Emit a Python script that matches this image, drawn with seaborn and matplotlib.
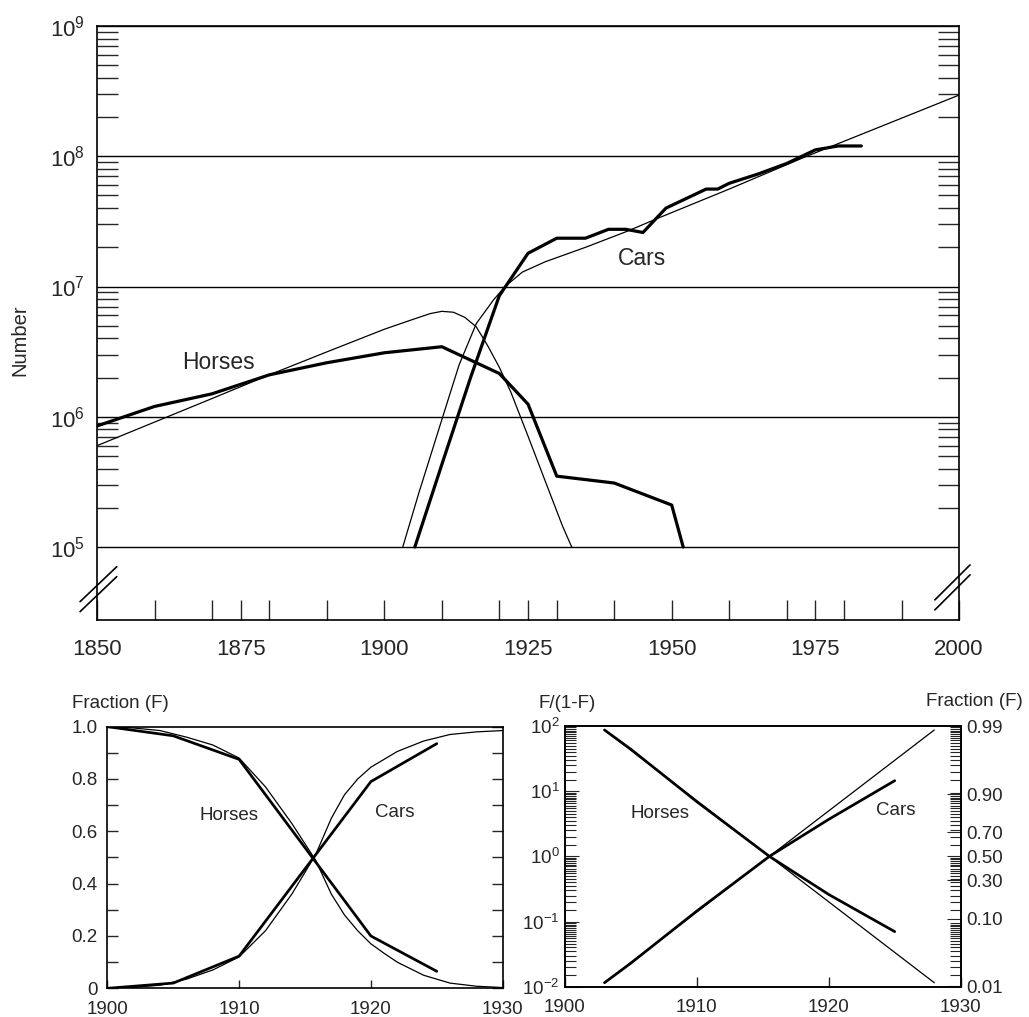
import numpy as np
import matplotlib
matplotlib.use('Agg')
import matplotlib.pyplot as plt
import matplotlib.ticker as mticker
import seaborn as sns

# top panel: numbers (observed = thick, fitted = thin)
horse_years = [1850, 1860, 1870, 1880, 1890, 1900, 1910, 1920, 1925, 1930, 1940, 1950, 1952]
horse_number = [8.5e5, 1.2e6, 1.5e6, 2.1e6, 2.6e6, 3.1e6, 3.45e6, 2.15e6, 1.25e6, 3.5e5, 3.1e5, 2.1e5, 1.0e5]
horse_fit_years = [1850, 1860, 1870, 1880, 1890, 1900, 1905, 1908, 1910, 1912, 1914, 1916, 1918, 1920,
                   1922, 1925, 1928, 1931, 1932.6]
horse_fit_number = [6.0e5, 9.1e5, 1.38e6, 2.1e6, 3.15e6, 4.7e6, 5.6e6, 6.2e6, 6.45e6, 6.35e6, 5.8e6, 4.9e6,
                    3.5e6, 2.4e6, 1.55e6, 7.1e5, 3.2e5, 1.45e5, 1.0e5]
car_years = [1905.3, 1910, 1915, 1920, 1925, 1930, 1935, 1939, 1942, 1945, 1949, 1956, 1958, 1960, 1965,
             1970, 1975, 1979, 1983]
car_number = [1.0e5, 4.3e5, 2.0e6, 8.5e6, 1.8e7, 2.35e7, 2.35e7, 2.75e7, 2.75e7, 2.6e7, 4.0e7, 5.6e7, 5.6e7,
              6.2e7, 7.3e7, 8.8e7, 1.12e8, 1.2e8, 1.2e8]
car_fit_years = [1903.2, 1906, 1910, 1913, 1916, 1919, 1921, 1924, 1928, 1935, 1942, 1948, 1960, 1973, 2000]
car_fit_number = [1.0e5, 2.6e5, 9.5e5, 2.5e6, 5.2e6, 7.9e6, 1.0e7, 1.29e7, 1.55e7, 2.0e7, 2.63e7, 3.4e7,
                  5.6e7, 9.8e7, 2.95e8]

# bottom left: market fraction
frac_years = [1900, 1905, 1910, 1920, 1925]
horse_frac = [1.0, 0.965, 0.875, 0.2, 0.065]
car_frac = [0.0, 0.02, 0.123, 0.79, 0.935]
frac_fit_years = [1900, 1902, 1904, 1906, 1908, 1910, 1912, 1914, 1915.8, 1917, 1918, 1919, 1920, 1921,
                  1922, 1924, 1926, 1928, 1930]
horse_frac_fit = [1.0, 0.995, 0.985, 0.96, 0.93, 0.88, 0.77, 0.63, 0.49, 0.36, 0.28, 0.22, 0.17, 0.134,
                  0.10, 0.05, 0.02, 0.008, 0.003]
car_frac_fit = [0.0, 0.004, 0.012, 0.035, 0.07, 0.12, 0.22, 0.36, 0.51, 0.65, 0.74, 0.80, 0.845, 0.875,
                0.905, 0.945, 0.97, 0.98, 0.985]

# bottom right: F/(1-F)
ratio_years = [1903, 1905, 1910, 1915.5, 1920, 1925]
horse_ratio = [87, 44, 6.9, 1.0, 0.26, 0.07]
car_ratio = [0.0115, 0.023, 0.145, 1.0, 3.7, 14.5]
ratio_fit_years = [1903, 1928]
horse_ratio_fit = [87, 0.0115]
car_ratio_fit = [0.0115, 87]
frac_right_labels = [0.01, 0.10, 0.30, 0.50, 0.70, 0.90, 0.99]

sns.set_style('ticks')
plt.rcParams['font.family'] = ['Liberation Sans', 'DejaVu Sans']
plt.rcParams['mathtext.fontset'] = 'custom'
plt.rcParams['mathtext.rm'] = 'Liberation Sans'
plt.rcParams['mathtext.default'] = 'regular'
plt.rcParams['axes.edgecolor'] = 'k'
plt.rcParams['axes.linewidth'] = 1.2

THICK = 2.3
THIN = 0.9
BIG = 16
SMALL = 13.5

fig = plt.figure(figsize=(10.29, 10.17), dpi=100)

# ---- top panel ----
ax = fig.add_axes([0.0943, 0.3904, 0.8377, 0.584])
ax.set_yscale('log')
ax.set_xlim(1850, 2000)
ax.set_ylim(10 ** 4.44, 1e9)
sns.lineplot(x=horse_fit_years, y=horse_fit_number, ax=ax, color='k', lw=THIN)
sns.lineplot(x=car_fit_years, y=car_fit_number, ax=ax, color='k', lw=THIN)
sns.lineplot(x=horse_years, y=horse_number, ax=ax, color='k', lw=THICK)
sns.lineplot(x=car_years, y=car_number, ax=ax, color='k', lw=THICK)

decades = [1e5, 1e6, 1e7, 1e8, 1e9]
ax.yaxis.set_major_locator(mticker.FixedLocator(decades))
ax.yaxis.set_major_formatter(mticker.FixedFormatter([r'$10^{%d}$' % k for k in range(5, 10)]))
ax.yaxis.set_minor_locator(mticker.FixedLocator([m * 10 ** k for k in range(5, 9) for m in range(2, 10)]))
ax.yaxis.set_minor_formatter(mticker.NullFormatter())
ax.grid(axis='y', which='major', color='k', lw=1.0)
ax.tick_params(axis='y', which='both', direction='in', left=True, right=True, width=1.0,
               labelsize=BIG, pad=9)
ax.tick_params(axis='y', which='minor', length=15)
ax.tick_params(axis='y', which='major', length=0)

ax.xaxis.set_major_locator(mticker.FixedLocator([1850, 1875, 1900, 1925, 1950, 1975, 2000]))
ax.xaxis.set_minor_locator(mticker.MultipleLocator(10))
ax.tick_params(axis='x', which='both', direction='in', bottom=True, top=False, length=14.5, width=1.0,
               labelsize=BIG, pad=14)
ax.set_xlabel('')
ax.set_ylabel('Number', fontsize=14.5)
ax.yaxis.set_label_coords(-0.078, 0.471)

ax.text(1871.1, 2.6e6, 'Horses', ha='center', va='center', fontsize=16.5)
ax.text(1944.8, 1.63e7, 'Cars', ha='center', va='center', fontsize=16.5)

# axis break marks
for x0, x1, dy in [(-0.0197, 0.0229, 0.0), (0.972, 1.0128, 0.003)]:
    ax.plot([x0, x1], [0.0308 + dy, 0.0897 + dy], color='k', lw=1.2, transform=ax.transAxes, clip_on=False)
    ax.plot([x0, x1], [0.014 + dy, 0.073 + dy], color='k', lw=1.2, transform=ax.transAxes, clip_on=False)

# ---- bottom left ----
ax2 = fig.add_axes([0.1043, 0.0282, 0.3842, 0.2573])
ax2.set_xlim(1900, 1930)
ax2.set_ylim(0, 1)
sns.lineplot(x=frac_fit_years, y=horse_frac_fit, ax=ax2, color='k', lw=THIN)
sns.lineplot(x=frac_fit_years, y=car_frac_fit, ax=ax2, color='k', lw=THIN)
sns.lineplot(x=frac_years, y=horse_frac, ax=ax2, color='k', lw=THICK * 0.85)
sns.lineplot(x=frac_years, y=car_frac, ax=ax2, color='k', lw=THICK * 0.85)
ax2.xaxis.set_major_locator(mticker.FixedLocator([1900, 1910, 1920, 1930]))
ax2.yaxis.set_major_locator(mticker.FixedLocator([0, 0.2, 0.4, 0.6, 0.8, 1.0]))
ax2.yaxis.set_major_formatter(mticker.FixedFormatter(['0', '0.2', '0.4', '0.6', '0.8', '1.0']))
ax2.yaxis.set_minor_locator(mticker.MultipleLocator(0.1))
ax2.tick_params(axis='x', which='both', direction='in', bottom=True, top=False, length=6, width=1.0,
                labelsize=SMALL, pad=9)
ax2.tick_params(axis='y', which='both', direction='in', left=True, right=True, length=8, width=1.0,
                labelsize=SMALL, pad=7)
ax2.set_xlabel('')
ax2.set_ylabel('')
ax2.text(1909.2, 0.662, 'Horses', ha='center', va='center', fontsize=SMALL)
ax2.text(1921.8, 0.67, 'Cars', ha='center', va='center', fontsize=SMALL)
fig.text(72 / 1029, 1 - 703 / 1017, 'Fraction (F)', ha='left', va='center', fontsize=SMALL)

# ---- bottom right ----
ax3 = fig.add_axes([0.549, 0.0298, 0.3846, 0.2563])
ax3.set_yscale('log')
ax3.set_xlim(1900, 1930)
ax3.set_ylim(0.01, 100)
sns.lineplot(x=ratio_fit_years, y=horse_ratio_fit, ax=ax3, color='k', lw=THIN)
sns.lineplot(x=ratio_fit_years, y=car_ratio_fit, ax=ax3, color='k', lw=THIN)
sns.lineplot(x=ratio_years, y=horse_ratio, ax=ax3, color='k', lw=THICK * 0.85)
sns.lineplot(x=ratio_years, y=car_ratio, ax=ax3, color='k', lw=THICK * 0.85)
minor_subs = np.arange(1.5, 10, 0.5)
ax3.yaxis.set_major_locator(mticker.FixedLocator([0.01, 0.1, 1, 10, 100]))
ax3.yaxis.set_major_formatter(mticker.FixedFormatter([r'$10^{%d}$' % k for k in range(-2, 3)]))
ax3.yaxis.set_minor_locator(mticker.LogLocator(base=10, subs=minor_subs, numticks=20))
ax3.yaxis.set_minor_formatter(mticker.NullFormatter())
ax3.xaxis.set_major_locator(mticker.FixedLocator([1900, 1910, 1920, 1930]))
ax3.tick_params(axis='x', which='both', direction='in', bottom=True, top=False, length=7, width=1.0,
                labelsize=SMALL, pad=9)
ax3.tick_params(axis='y', which='both', direction='in', left=True, right=False, width=0.8,
                labelsize=SMALL, pad=4)
ax3.tick_params(axis='y', which='major', length=10)
ax3.tick_params(axis='y', which='minor', length=8)
ax3.set_xlabel('')
ax3.set_ylabel('')
ax3.text(1907.2, 4.5, 'Horses', ha='center', va='center', fontsize=SMALL)
ax3.text(1925.1, 5.1, 'Cars', ha='center', va='center', fontsize=SMALL)

ax4 = ax3.twinx()
ax4.set_yscale('log')
ax4.set_ylim(0.01, 100)
ax4.yaxis.set_major_locator(mticker.FixedLocator([f / (1 - f) for f in frac_right_labels]))
ax4.yaxis.set_major_formatter(mticker.FixedFormatter(['%.2f' % f for f in frac_right_labels]))
ax4.yaxis.set_minor_locator(mticker.LogLocator(base=10, subs=minor_subs, numticks=20))
ax4.yaxis.set_minor_formatter(mticker.NullFormatter())
ax4.tick_params(axis='y', which='both', direction='in', width=0.8, labelsize=SMALL, pad=4)
ax4.tick_params(axis='y', which='major', length=10)
ax4.tick_params(axis='y', which='minor', length=8)
fig.text(538 / 1029, 1 - 703 / 1017, 'F/(1-F)', ha='left', va='center', fontsize=SMALL)
fig.text(1023 / 1029, 1 - 702 / 1017, 'Fraction (F)', ha='right', va='center', fontsize=SMALL)

fig.savefig('out.png', dpi=100)
